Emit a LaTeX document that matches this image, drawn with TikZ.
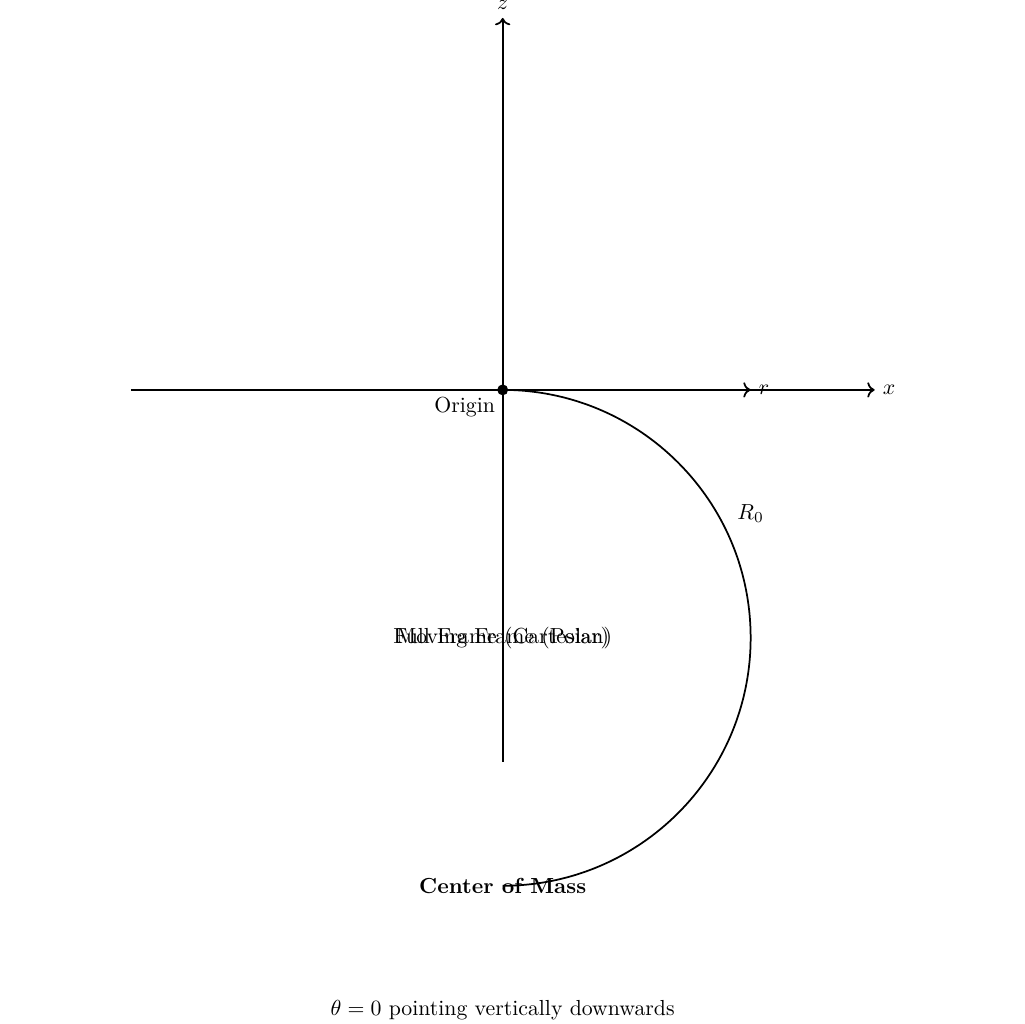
\documentclass[tikz,border=0pt]{standalone}
\usepackage{amsmath}
\usepackage{tikz}
\usetikzlibrary{arrows.meta,positioning,calc}
\tikzset{
  axisline/.style={->, thick},
  orbit/.style={thick},
  dotnode/.style={circle, fill=black, inner sep=0pt, minimum size=5pt},
  lbl/.style={font=\normalsize, inner sep=2pt},
  every picture/.append style={line join=round}
}
\begin{document}
\begin{tikzpicture}
  \useasboundingbox (-8.11,-10.23) rectangle (8.41,6.29);
  % frame points
  \coordinate (O) at (0,0);
  \coordinate (xL) at (-6,0);
  \coordinate (xR) at (6,0);
  \coordinate (zB) at (0,-6);
  \coordinate (zT) at (0,6);
  \coordinate (rE) at (4,0);
  \coordinate (cm) at (0,-8);
  % axes
  \draw[axisline] (xL) -- (xR) node[right] {$x$};
  \draw[axisline] (zB) -- (zT) node[above] {$z$};
  \draw[axisline] (O) -- (rE) node[right] {$r$};
  % path of the centre of mass
  \draw[orbit] (O) arc[start angle=90, end angle=-90, radius=4];
  \node[dotnode] (org) at (O) {};
  \node[below left] (orglbl) at (O) {Origin};
  \node[lbl] (R) at (4,-2) {$R_0$};
  \node (full) at (0,-4) {Full Frame (Cartesian)};
  \node (mov) at (0,-4) {Moving Frame (Polar)};
  \node[font=\bfseries] (cmlbl) at (cm) {Center of Mass};
  \node (note) at (0,-10) {$\theta = 0$ pointing vertically downwards};
\end{tikzpicture}
\end{document}
